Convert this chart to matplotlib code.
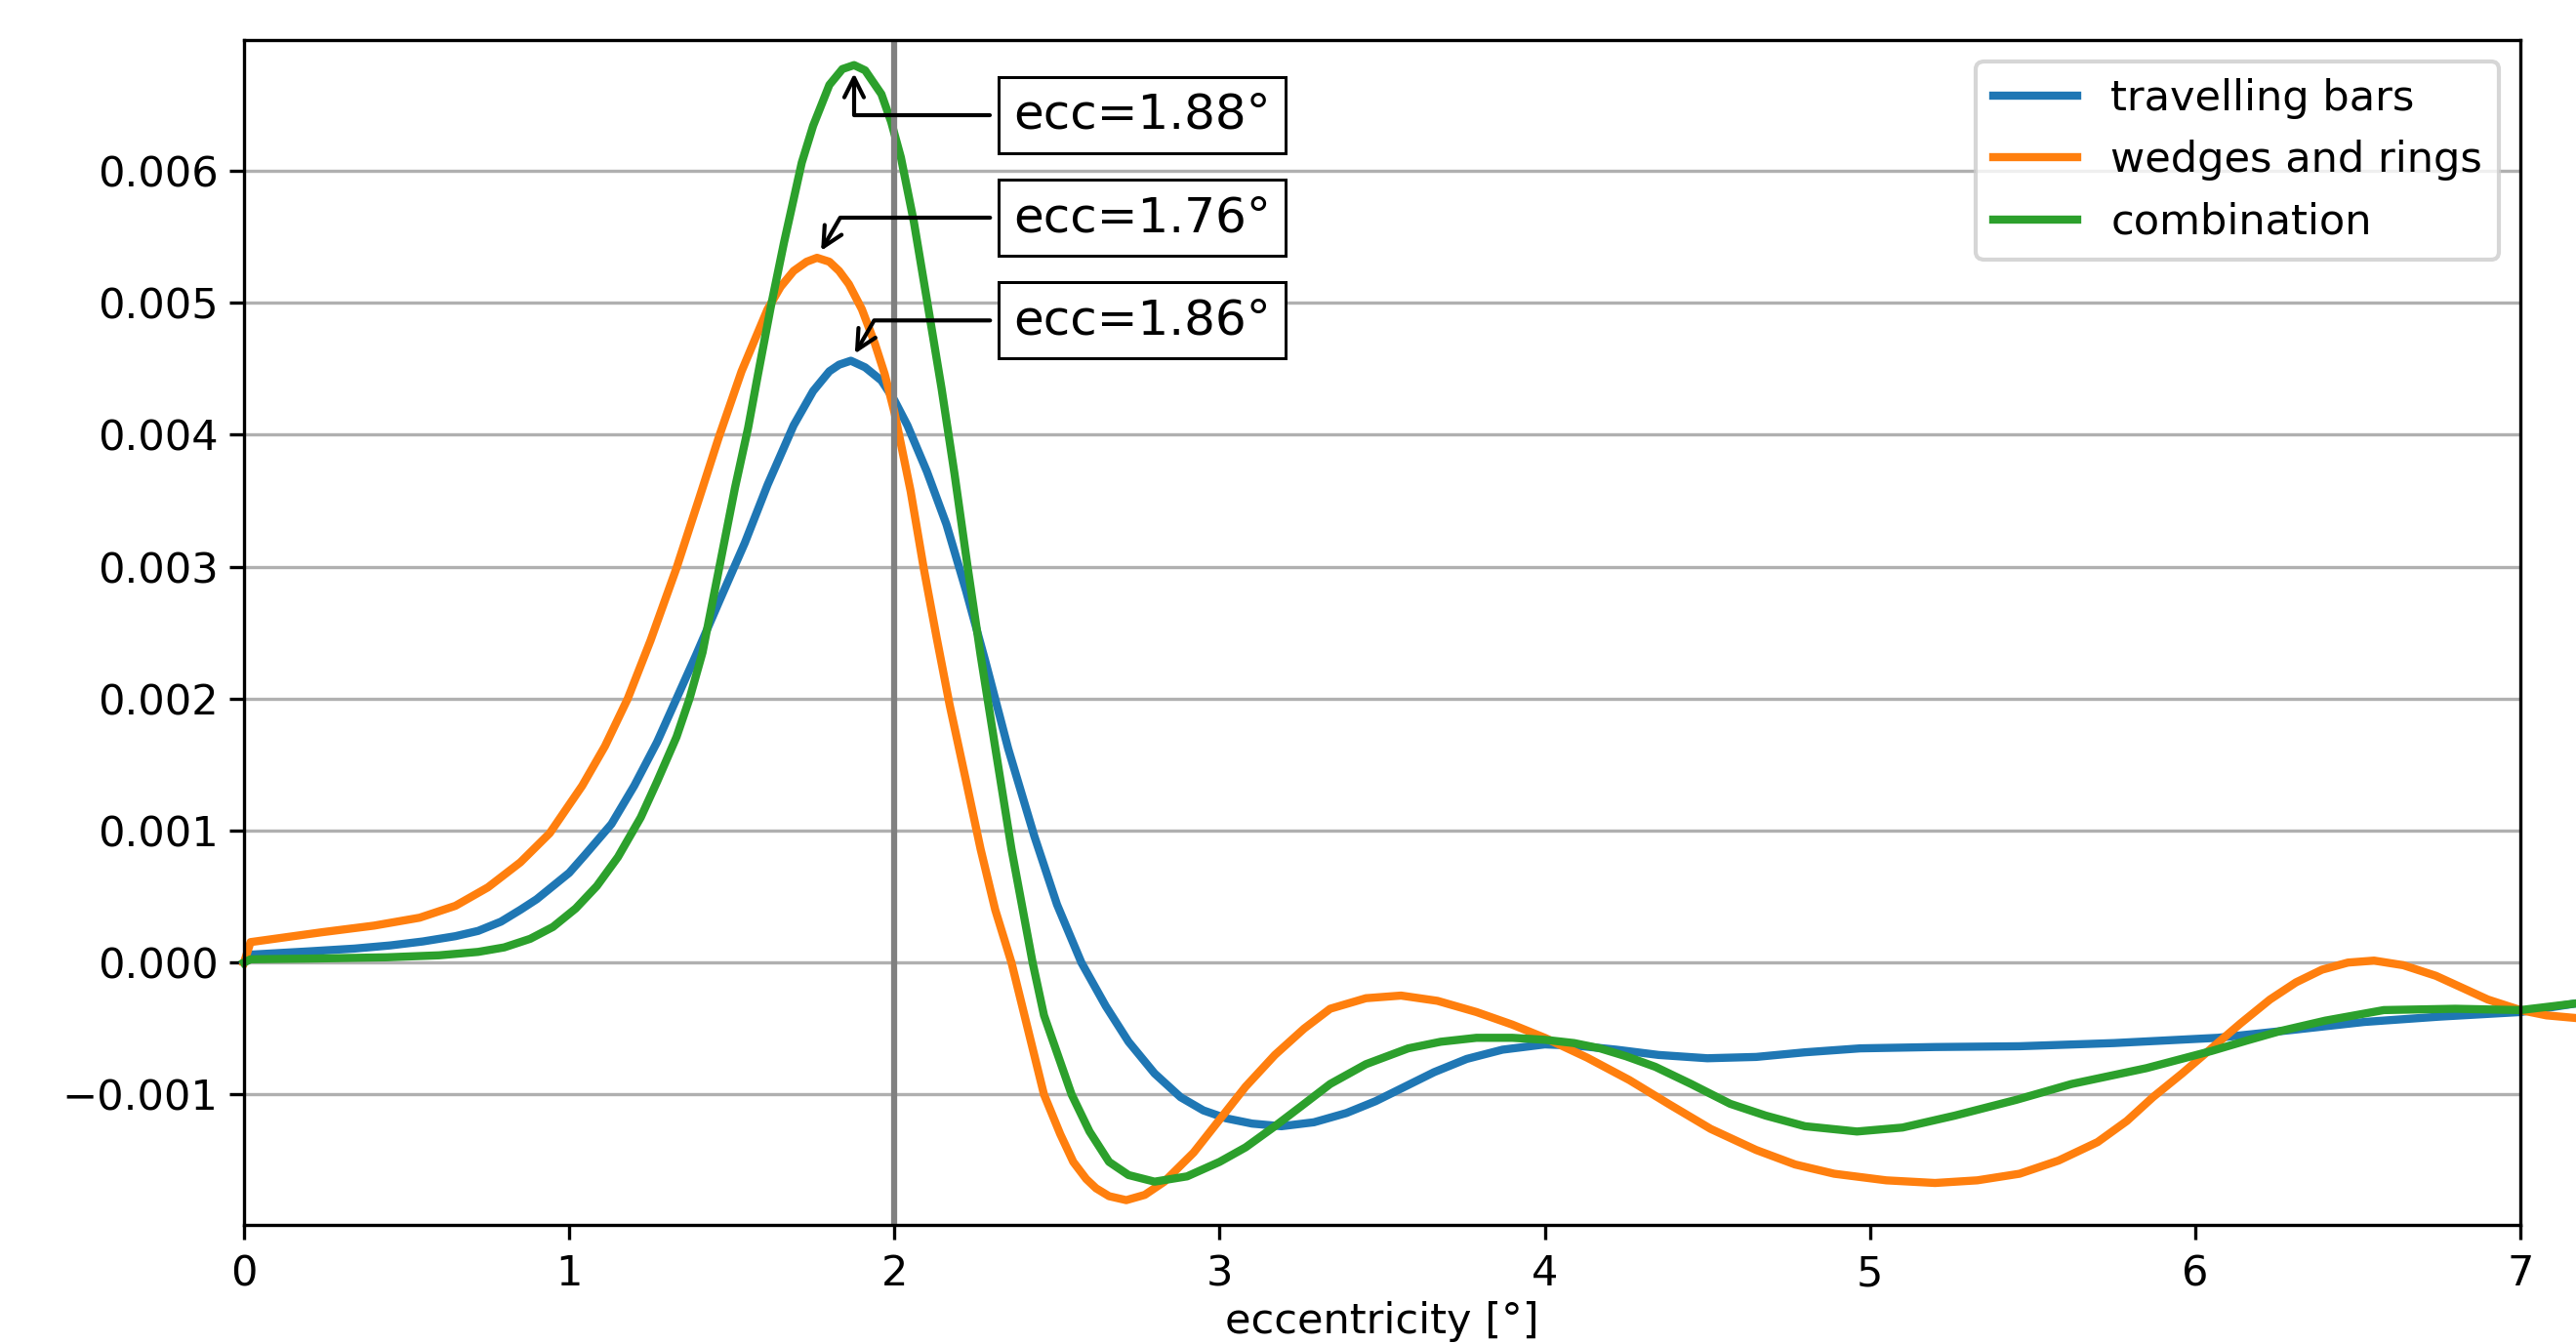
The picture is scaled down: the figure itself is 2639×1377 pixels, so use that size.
import matplotlib
matplotlib.use("Agg")
import matplotlib.pyplot as plt

# ---- data ----
bars_x = [0.0, 0.02, 0.20, 0.34, 0.45, 0.55, 0.65, 0.72, 0.79, 0.85, 0.90, 0.95, 1.00, 1.05,
          1.13, 1.20, 1.27, 1.33, 1.39, 1.46, 1.54, 1.61, 1.69, 1.75, 1.80, 1.83, 1.866,
          1.91, 1.96, 2.00, 2.04, 2.10, 2.16, 2.22, 2.28, 2.35, 2.43, 2.50, 2.575, 2.65,
          2.72, 2.80, 2.88, 2.95, 3.02, 3.10, 3.19, 3.29, 3.39, 3.48, 3.57, 3.66, 3.76,
          3.87, 4.00, 4.10, 4.22, 4.35, 4.50, 4.65, 4.80, 4.97, 5.20, 5.46, 5.75, 6.07,
          6.30, 6.52, 6.75, 7.00, 7.17]
bars_y = [0.0, 0.00006, 0.000085, 0.000106, 0.00013, 0.00016, 0.00020, 0.00024, 0.00031,
          0.00040, 0.00048, 0.00058, 0.00068, 0.00082, 0.00105, 0.00134, 0.00167, 0.00200,
          0.00233, 0.00273, 0.00318, 0.00362, 0.00407, 0.00433, 0.00448, 0.00453, 0.00456,
          0.00451, 0.00441, 0.00426, 0.00407, 0.00372, 0.00332, 0.00282, 0.00228, 0.00162,
          0.00096, 0.00044, 0.0, -0.00033, -0.00060, -0.00084, -0.00102, -0.00112,
          -0.00118, -0.00122, -0.00124, -0.00121, -0.00114, -0.00105, -0.00094, -0.00083,
          -0.00073, -0.00066, -0.00062, -0.00063, -0.00066, -0.00070, -0.000725, -0.000715,
          -0.00068, -0.00065, -0.00064, -0.000634, -0.00061, -0.00057, -0.00051, -0.00045,
          -0.00041, -0.000375, -0.00031]

wedges_x = [0.0, 0.02, 0.24, 0.40, 0.54, 0.65, 0.75, 0.85, 0.94, 1.04, 1.11, 1.18, 1.25,
            1.33, 1.40, 1.46, 1.53, 1.61, 1.65, 1.69, 1.73, 1.762, 1.80, 1.83, 1.86, 1.90,
            1.94, 1.97, 2.00, 2.05, 2.09, 2.13, 2.17, 2.22, 2.265, 2.31, 2.36, 2.40, 2.46,
            2.51, 2.55, 2.59, 2.62, 2.66, 2.713, 2.77, 2.83, 2.92, 3.00, 3.08, 3.17, 3.26,
            3.34, 3.45, 3.558, 3.67, 3.79, 3.90, 4.00, 4.13, 4.26, 4.38, 4.51, 4.65, 4.77,
            4.89, 5.05, 5.20, 5.33, 5.46, 5.58, 5.70, 5.79, 5.87, 5.96, 6.05, 6.14, 6.23,
            6.31, 6.39, 6.47, 6.55, 6.64, 6.74, 6.82, 6.90, 7.00, 7.08, 7.17]
wedges_y = [0.0, 0.000155, 0.00023, 0.00028, 0.00034, 0.00043, 0.00057, 0.00076, 0.00098,
            0.00134, 0.00164, 0.00200, 0.00244, 0.00299, 0.00352, 0.00398, 0.00448, 0.00495,
            0.00512, 0.00524, 0.00531, 0.00534, 0.00531, 0.00524, 0.00514, 0.00495, 0.00469,
            0.00446, 0.00417, 0.00357, 0.00299, 0.00246, 0.00195, 0.00138, 0.00086, 0.00040,
            0.0, -0.00040, -0.00100, -0.00130, -0.00151, -0.00164, -0.00171, -0.00177,
            -0.00180, -0.00176, -0.00166, -0.00144, -0.00119, -0.00094, -0.00070, -0.00050,
            -0.00035, -0.00027, -0.00025, -0.00029, -0.000375, -0.00047, -0.00057, -0.00072,
            -0.00089, -0.00107, -0.00126, -0.00142, -0.00153, -0.00160, -0.00165, -0.00167,
            -0.00165, -0.00160, -0.00150, -0.00136, -0.00120, -0.00102, -0.00084, -0.00065,
            -0.00046, -0.00028, -0.00015, -0.000054, 0.0, 0.000015, -0.00002, -0.00010,
            -0.00019, -0.00028, -0.00036, -0.00040, -0.00042]

combo_x = [0.0, 0.02, 0.20, 0.44, 0.60, 0.72, 0.80, 0.88, 0.95, 1.02, 1.085, 1.15, 1.22,
           1.27, 1.33, 1.37, 1.41, 1.45, 1.51, 1.55, 1.58, 1.62, 1.66, 1.715, 1.75, 1.80,
           1.84, 1.876, 1.91, 1.96, 1.99, 2.02, 2.06, 2.10, 2.145, 2.185, 2.225, 2.265,
           2.31, 2.36, 2.425, 2.46, 2.545, 2.60, 2.66, 2.72, 2.80, 2.90, 3.00, 3.08, 3.17,
           3.25, 3.34, 3.45, 3.58, 3.68, 3.79, 3.90, 4.00, 4.09, 4.17, 4.25, 4.34, 4.45,
           4.57, 4.68, 4.80, 4.96, 5.10, 5.26, 5.45, 5.62, 5.85, 6.05, 6.16, 6.26, 6.40,
           6.58, 6.80, 7.00, 7.17]
combo_y = [0.0, 0.000025, 0.00003, 0.00004, 0.000055, 0.000081, 0.000115, 0.00018, 0.00027,
           0.00041, 0.00058, 0.00080, 0.00110, 0.00137, 0.00171, 0.00200, 0.00235, 0.00285,
           0.00360, 0.00405, 0.00445, 0.00497, 0.00545, 0.00606, 0.00634, 0.00665, 0.00677,
           0.00680, 0.00676, 0.00658, 0.00637, 0.00610, 0.00561, 0.00502, 0.00435, 0.00370,
           0.00300, 0.00233, 0.00163, 0.00086, 0.0, -0.00040, -0.00100, -0.00128, -0.00151,
           -0.00161, -0.00166, -0.00162, -0.00151, -0.00140, -0.00124, -0.00109, -0.00092,
           -0.00077, -0.00065, -0.00060, -0.00057, -0.00057, -0.000585, -0.00061, -0.00065,
           -0.00071, -0.00079, -0.00092, -0.00107, -0.00116, -0.00124, -0.00128, -0.00125,
           -0.00116, -0.00104, -0.00092, -0.00080, -0.00067, -0.00059, -0.00052, -0.00044,
           -0.00036, -0.00035, -0.00036, -0.00031]

series_labels = ["travelling bars", "wedges and rings", "combination"]
peak_labels = ["ecc=1.88°", "ecc=1.76°", "ecc=1.86°"]   # combination, wedges, bars
peak_x = [1.876, 1.762, 1.866]
peak_y = [0.00680, 0.00534, 0.00456]
yticks = [-0.001, 0.0, 0.001, 0.002, 0.003, 0.004, 0.005, 0.006]
xticks = [0, 1, 2, 3, 4, 5, 6, 7]

# ---- figure ----
plt.rcParams["font.size"] = 10.35
plt.rcParams["ytick.major.pad"] = 2.8
W, H, DPI = 2639, 1377, 300
fig = plt.figure(figsize=(W / DPI, H / DPI), dpi=DPI)
ax = fig.add_axes([250 / W, 1 - 1255.3 / H, (2582 - 250) / W, (1255.3 - 41) / H])

LW = 2.0
ax.plot(bars_x, bars_y, color="#1f77b4", lw=LW, label=series_labels[0], clip_on=False)
ax.plot(wedges_x, wedges_y, color="#ff7f0e", lw=LW, label=series_labels[1], clip_on=False)
ax.plot(combo_x, combo_y, color="#2ca02c", lw=LW, label=series_labels[2], clip_on=False)
ax.axvline(2, color="gray", lw=1.5)

ax.set_xlim(0, 7)
ax.set_ylim(-0.00199, 0.00699)
ax.set_xticks(xticks)
ax.set_yticks(yticks)
ax.grid(axis="y")
ax.set_xlabel("eccentricity [°]", labelpad=1.5)
ax.legend(loc="upper right")

bbox_props = dict(boxstyle="square,pad=0.3", fc="w", ec="k", lw=0.72)
text_y = [0.9367, 0.8501, 0.7634]
angles = [90, 60, 60]
for lab, px, py, ty, ang in zip(peak_labels, peak_x, peak_y, text_y, angles):
    ax.annotate(lab, xy=(px, py), xycoords="data",
                xytext=(0.3379, ty), textcoords="axes fraction",
                ha="left", va="center", fontsize=12, bbox=bbox_props,
                arrowprops=dict(arrowstyle="->",
                                connectionstyle=f"angle,angleA=0,angleB={ang}"))

fig.savefig("out.png", dpi=DPI)
